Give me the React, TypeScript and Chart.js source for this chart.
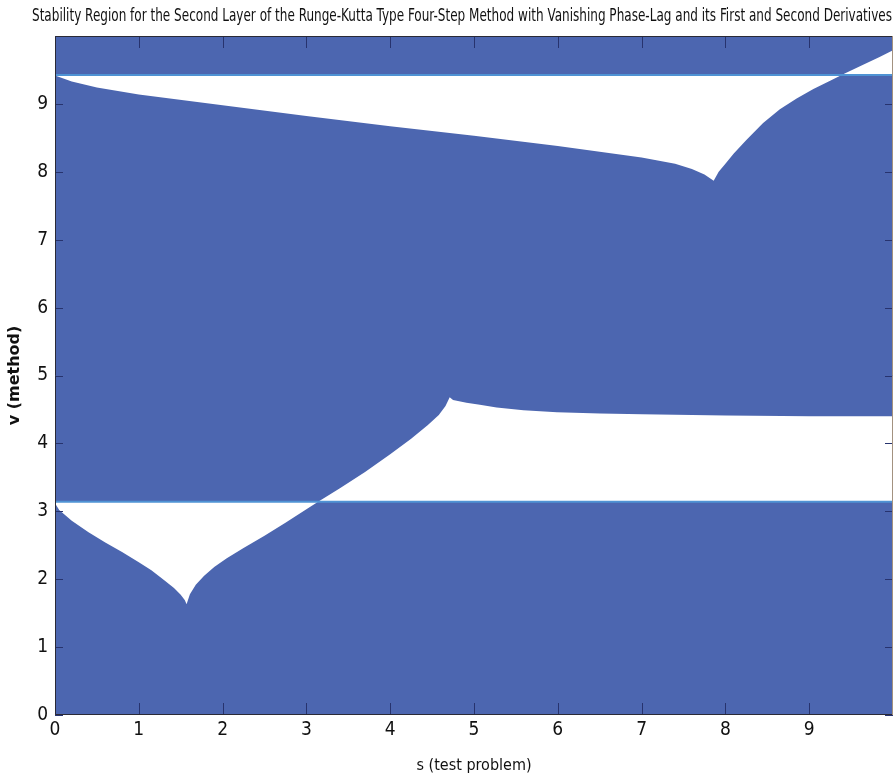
import { useEffect, useRef } from 'react';
import { Chart, registerables } from 'chart.js';

Chart.register(...registerables);

const TITLE =
  'Stability Region for the Second Layer of the Runge-Kutta Type Four-Step Method with Vanishing Phase-Lag and its First and Second Derivatives';
const X_LABEL = 's (test problem)';
const Y_LABEL = 'v (method)';

const X_TICKS = [0, 1, 2, 3, 4, 5, 6, 7, 8, 9];
const Y_TICKS = [0, 1, 2, 3, 4, 5, 6, 7, 8, 9];
const S_RANGE = [0, 10];
const V_RANGE = [0, 10];

// horizontal boundaries v = pi and v = 3*pi
const LOW_LEVEL = 3.1416;
const HIGH_LEVEL = 9.4248;

// upper boundary curve (cusp near s = 5*pi/2)
const upperS = [0, 0.2, 0.5, 1, 2, 3, 4, 5, 6, 7, 7.4, 7.6, 7.75, 7.86, 7.92, 8.0, 8.1, 8.25, 8.45, 8.65, 8.85, 9.05, 9.25, 9.43, 9.65, 9.84, 10];
const upperV = [9.42, 9.33, 9.24, 9.14, 8.98, 8.82, 8.67, 8.53, 8.38, 8.21, 8.12, 8.04, 7.96, 7.87, 8.0, 8.12, 8.27, 8.47, 8.72, 8.92, 9.08, 9.22, 9.34, 9.45, 9.58, 9.69, 9.79];

// lower boundary curve (cusps near s = pi/2 and s = 3*pi/2)
const lowerS = [
  0, 0.05, 0.2, 0.4, 0.6, 0.8, 1.0, 1.15, 1.3, 1.42, 1.5, 1.55, 1.57,
  1.61, 1.68, 1.78, 1.9, 2.05, 2.25, 2.5, 2.75, 3.0, 3.14,
  3.4, 3.7, 4.0, 4.25, 4.45, 4.58, 4.66, 4.71,
  4.75, 4.91, 5.07, 5.27, 5.59, 5.99, 6.5, 7, 8, 9, 10,
];
const lowerV = [
  3.12, 3.02, 2.86, 2.69, 2.54, 2.4, 2.25, 2.13, 1.99, 1.87, 1.77, 1.69, 1.63,
  1.78, 1.92, 2.05, 2.18, 2.31, 2.46, 2.64, 2.83, 3.03, 3.14,
  3.34, 3.58, 3.84, 4.07, 4.27, 4.42, 4.55, 4.68,
  4.64, 4.6, 4.57, 4.53, 4.49, 4.46, 4.44, 4.43, 4.41, 4.4, 4.4,
];

const REGION_BLUE = '#4c66b0';
const EDGE_BLUE = '#4f93d4';
const TICK_COLOR = '#27336e';
const TEXT_COLOR = '#111111';
const NARROW = "'Liberation Sans Narrow', 'DejaVu Sans Condensed', sans-serif";

const toPoints = (xs: number[], ys: number[]) => xs.map((x, i) => ({ x, y: ys[i] }));

// inward tick marks on all four sides plus the axes frame
const frameTicks = {
  id: 'frameTicks',
  afterDatasetsDraw(chart: any) {
    const { ctx, chartArea } = chart;
    const { left, right, top, bottom } = chartArea;
    const xs = chart.scales.x;
    const ys = chart.scales.y;
    ctx.save();
    ctx.lineWidth = 1;
    ctx.strokeStyle = TICK_COLOR;
    ctx.beginPath();
    xs.ticks.forEach((t: any) => {
      const px = Math.round(xs.getPixelForValue(t.value)) + 0.5;
      ctx.moveTo(px, bottom);
      ctx.lineTo(px, bottom - 12);
      ctx.moveTo(px, top);
      ctx.lineTo(px, top + 12);
    });
    ys.ticks.forEach((t: any) => {
      const py = Math.round(ys.getPixelForValue(t.value)) + 0.5;
      ctx.moveTo(left, py);
      ctx.lineTo(left + 8, py);
      ctx.moveTo(right, py);
      ctx.lineTo(right - 8, py);
    });
    ctx.stroke();
    ctx.strokeStyle = '#2a2a36';
    ctx.beginPath();
    ctx.moveTo(right, top + 0.5);
    ctx.lineTo(left + 0.5, top + 0.5);
    ctx.lineTo(left + 0.5, bottom - 0.5);
    ctx.lineTo(right, bottom - 0.5);
    ctx.stroke();
    ctx.strokeStyle = '#a39280';
    ctx.beginPath();
    ctx.moveTo(right - 0.5, top);
    ctx.lineTo(right - 0.5, bottom);
    ctx.stroke();
    ctx.restore();
  },
};

// condensed title line set above the plot, ending at the right edge of the axes
const condensedTitle = {
  id: 'condensedTitle',
  afterDraw(chart: any) {
    const { ctx, chartArea } = chart;
    const width = 860;
    ctx.save();
    ctx.font = `17px ${NARROW}`;
    ctx.fillStyle = TEXT_COLOR;
    ctx.textAlign = 'right';
    ctx.textBaseline = 'middle';
    ctx.fillText(TITLE, chartArea.right - 1, chartArea.top / 2 - 1, width);
    ctx.restore();
  },
};

export default function App() {
  const canvasRef = useRef<HTMLCanvasElement | null>(null);

  useEffect(() => {
    if (!canvasRef.current) return;
    const chart = new Chart(canvasRef.current, {
      type: 'line',
      data: {
        datasets: [
          {
            label: 'upper',
            data: toPoints(upperS, upperV),
            borderWidth: 0,
            pointRadius: 0,
            backgroundColor: '#ffffff',
            fill: { target: 2 },
            order: 3,
          },
          {
            label: 'lower',
            data: toPoints(lowerS, lowerV),
            borderWidth: 0,
            pointRadius: 0,
            backgroundColor: '#ffffff',
            fill: { target: 3 },
            order: 3,
          },
          {
            label: 'v = 3pi',
            data: toPoints(S_RANGE, [HIGH_LEVEL, HIGH_LEVEL]),
            borderColor: EDGE_BLUE,
            borderWidth: 2,
            pointRadius: 0,
            fill: false,
            order: 1,
          },
          {
            label: 'v = pi',
            data: toPoints(S_RANGE, [LOW_LEVEL, LOW_LEVEL]),
            borderColor: EDGE_BLUE,
            borderWidth: 2,
            pointRadius: 0,
            fill: false,
            order: 1,
          },
          {
            label: 'region',
            data: toPoints(S_RANGE, [V_RANGE[1], V_RANGE[1]]),
            borderWidth: 0,
            pointRadius: 0,
            backgroundColor: REGION_BLUE,
            fill: 'start',
            order: 5,
          },
        ],
      },
      options: {
        animation: false,
        responsive: false,
        devicePixelRatio: 1,
        layout: { padding: { left: 0, right: 1, top: 36, bottom: 0 } },
        plugins: {
          legend: { display: false },
          tooltip: { enabled: false },
          title: { display: false },
        },
        scales: {
          x: {
            type: 'linear',
            min: S_RANGE[0],
            max: S_RANGE[1],
            grid: { display: false, drawTicks: false },
            border: { display: false },
            afterBuildTicks: (scale: any) => {
              scale.ticks = X_TICKS.map((value) => ({ value }));
            },
            afterFit: (scale: any) => {
              scale.height = 62;
            },
            ticks: {
              color: TEXT_COLOR,
              padding: 4,
              maxRotation: 0,
              autoSkip: false,
              font: { family: NARROW, size: 19 },
            },
            title: {
              display: true,
              text: X_LABEL,
              color: TEXT_COLOR,
              font: { family: NARROW, size: 16, lineHeight: 1.2 },
              padding: { top: 0, bottom: 2 },
            },
          },
          y: {
            type: 'linear',
            min: V_RANGE[0],
            max: V_RANGE[1],
            grid: { display: false, drawTicks: false },
            border: { display: false },
            afterBuildTicks: (scale: any) => {
              scale.ticks = Y_TICKS.map((value) => ({ value }));
            },
            afterFit: (scale: any) => {
              scale.width = 55;
            },
            ticks: {
              color: TEXT_COLOR,
              padding: 7,
              autoSkip: false,
              font: { family: NARROW, size: 19 },
            },
            title: {
              display: true,
              text: Y_LABEL,
              color: TEXT_COLOR,
              font: { family: "'DejaVu Sans', sans-serif", size: 16, weight: 'bold', lineHeight: 1.2 },
              padding: { top: 5, bottom: 0 },
            },
          },
        },
      },
      plugins: [frameTicks, condensedTitle],
    } as any);
    return () => chart.destroy();
  }, []);

  return (
    <div style={{ position: 'fixed', left: 0, top: 0, width: 894, height: 777, background: '#ffffff' }}>
      <canvas ref={canvasRef} width={894} height={777} style={{ display: 'block' }} />
    </div>
  );
}
